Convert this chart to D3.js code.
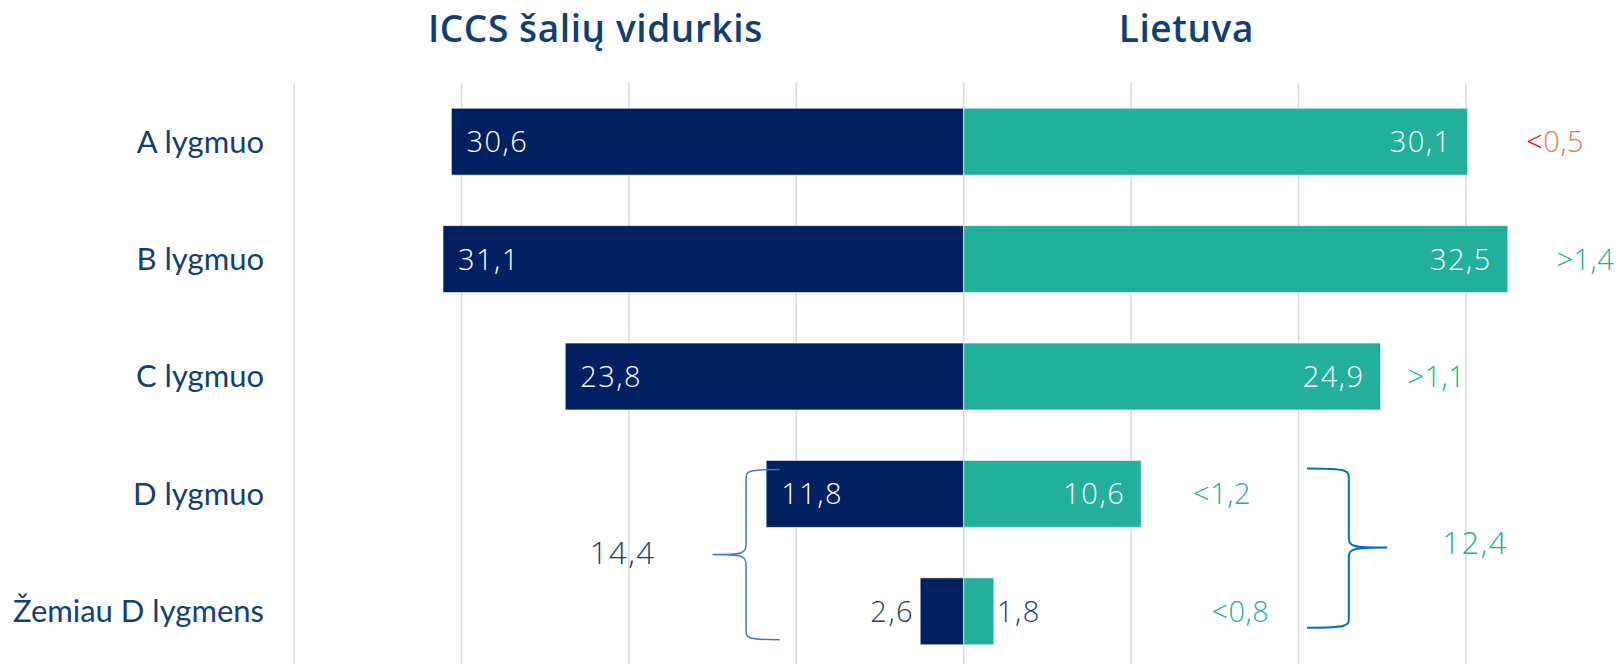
<!DOCTYPE html>
<html>
<head>
<meta charset="utf-8">
<script src="https://cdn.jsdelivr.net/npm/d3@7"></script>
<style>
  body { margin: 0; background: #fff; }
  svg { display: block; }
</style>
</head>
<body>
<div id="chart"></div>
<script>
// data
var levels = ["A lygmuo", "B lygmuo", "C lygmuo", "D lygmuo", "Žemiau D lygmens"];
var iccsAvg = [30.6, 31.1, 23.8, 11.8, 2.6];
var lithuania = [30.1, 32.5, 24.9, 10.6, 1.8];
var diffSign = ["<", ">", ">", "<", "<"];
var diffValue = [0.5, 1.4, 1.1, 1.2, 0.8];
var groupTotals = [14.4, 12.4];   // D + below D: ICCS, Lietuva
var titles = ["ICCS šalių vidurkis", "Lietuva"];
var gridTicks = [-40, -30, -20, -10, 0, 10, 20, 30];

// layout
var W = 1619, H = 664;
var diffAt = [33.6, 35.4, 26.5, 13.7, 14.8];   // where each difference label starts (x units)

var navy = "#002060", teal = "#23b09b", textBlue = "#14406f";
var fmt = function (v) { return d3.format(".1f")(v).replace(".", ","); };

var svg = d3.select("#chart").append("svg")
  .attr("width", W)
  .attr("height", H);

var x = d3.scaleLinear()
  .domain([-40, 30])
  .range([294, 1466]);

var y = d3.scaleBand()
  .domain(levels)
  .range([83, 670])
  .paddingInner(0.43)
  .paddingOuter(0.215);

var bw = y.bandwidth();

// grid
svg.append("g")
  .selectAll("line")
  .data(gridTicks)
  .enter()
  .append("line")
    .attr("x1", d => x(d))
    .attr("x2", d => x(d))
    .attr("y1", 83)
    .attr("y2", H)
    .attr("stroke", "#d9d9d9")
    .attr("stroke-width", 1.5);

// titles
svg.append("g")
  .selectAll("text")
  .data(titles)
  .enter()
  .append("text")
    .attr("x", (d, i) => i == 0 ? x(-22) : x(13.3))
    .attr("y", 42)
    .attr("text-anchor", "middle")
    .style("font-family", "'Open Sans'")
    .style("font-weight", 600)
    .style("font-size", "37px")
    .style("letter-spacing", "0.6px")
    .style("fill", "#123f73")
    .text(d => d);

// category labels
svg.append("g")
  .selectAll("text")
  .data(levels)
  .enter()
  .append("text")
    .attr("x", 264)
    .attr("y", d => y(d) + bw / 2)
    .attr("dy", "0.35em")
    .attr("text-anchor", "end")
    .style("font-family", "Lato")
    .style("font-size", "31px")
    .style("fill", textBlue)
    .text(d => d);

var rows = levels.map((d, i) => ({
  level: d, left: iccsAvg[i], right: lithuania[i],
  sign: diffSign[i], diff: diffValue[i], at: diffAt[i]
}));

// bars
var bars = svg.append("g");
bars.selectAll(".lbar")
  .data(rows)
  .enter()
  .append("rect")
    .attr("x", d => x(-d.left))
    .attr("y", d => y(d.level))
    .attr("width", d => x(0) - x(-d.left))
    .attr("height", bw)
    .attr("fill", navy)
    .attr("stroke", "#fff")
    .attr("stroke-opacity", 0.6)
    .attr("stroke-width", 1);

bars.selectAll(".rbar")
  .data(rows)
  .enter()
  .append("rect")
    .attr("x", x(0))
    .attr("y", d => y(d.level))
    .attr("width", d => x(d.right) - x(0))
    .attr("height", bw)
    .attr("fill", teal)
    .attr("stroke", "#fff")
    .attr("stroke-opacity", 0.6)
    .attr("stroke-width", 1);

// value labels
var labels = svg.append("g")
  .style("font-family", "'Open Sans'")
  .style("font-weight", 300)
  .style("font-size", "29px")
  .style("letter-spacing", "1.5px");

labels.selectAll(".lval")
  .data(rows)
  .enter()
  .append("text")
    .attr("x", d => d.left > 5 ? x(-d.left) + 15 : x(-d.left) - 6)
    .attr("y", d => y(d.level) + bw / 2)
    .attr("dy", "0.36em")
    .attr("text-anchor", d => d.left > 5 ? "start" : "end")
    .style("fill", d => d.left > 5 ? "#fff" : textBlue)
    .text(d => fmt(d.left));

labels.selectAll(".rval")
  .data(rows)
  .enter()
  .append("text")
    .attr("x", d => d.right > 5 ? x(d.right) - 16 : x(d.right) + 3)
    .attr("y", d => y(d.level) + bw / 2)
    .attr("dy", "0.36em")
    .attr("text-anchor", d => d.right > 5 ? "end" : "start")
    .style("fill", d => d.right > 5 ? "#fff" : textBlue)
    .text(d => fmt(d.right));

// difference labels
var diffs = labels.selectAll(".diff")
  .data(rows)
  .enter()
  .append("text")
    .attr("x", d => x(d.at))
    .attr("y", d => y(d.level) + bw / 2)
    .attr("dy", "0.36em")
    .style("letter-spacing", "0.5px");

diffs.append("tspan")
  .style("fill", d => d.sign == "<" && d.level == levels[0] ? "#ff0000" : teal)
  .text(d => d.sign);
diffs.append("tspan")
  .style("fill", d => d.sign == "<" && d.level == levels[0] ? "#e8735a" : teal)
  .text(d => fmt(d.diff));

// braces around D + below D
var braceTop = y(levels[3]) + 9;
var braceBot = y(levels[4]) + bw - 5;
var braceMid = (braceTop + braceBot) / 2;

function brace(xArm, xBar, xTip, y0, y1, ym) {
  var r = 10;
  var dir = xTip > xBar ? 1 : -1;
  return "M" + xArm + "," + y0 +
    " C" + xBar + "," + y0 + " " + xBar + "," + (y0 + 2) + " " + xBar + "," + (y0 + r) +
    " L" + xBar + "," + (ym - r) +
    " C" + xBar + "," + (ym - 1) + " " + (xBar + dir * 4) + "," + ym + " " + xTip + "," + ym +
    " C" + (xBar + dir * 4) + "," + ym + " " + xBar + "," + (ym + 1) + " " + xBar + "," + (ym + r) +
    " L" + xBar + "," + (y1 - r) +
    " C" + xBar + "," + (y1 - 2) + " " + xBar + "," + y1 + " " + xArm + "," + y1;
}

svg.append("path")
  .attr("d", brace(x(-11), x(-13), x(-15), braceTop, braceBot, braceMid))
  .attr("fill", "none")
  .attr("stroke", "#4472c4")
  .attr("stroke-width", 1.5);

svg.append("path")
  .attr("d", brace(x(20.5), x(23), x(25.3), braceTop - 1, braceBot - 12, braceMid - 7))
  .attr("fill", "none")
  .attr("stroke", "#0070c0")
  .attr("stroke-width", 2);

labels.append("text")
  .attr("x", x(-15) - 57)
  .attr("y", braceMid - 2)
  .attr("dy", "0.36em")
  .attr("text-anchor", "end")
  .style("font-size", "31px")
  .style("fill", textBlue)
  .text(fmt(groupTotals[0]));

labels.append("text")
  .attr("x", x(25.3) + 55)
  .attr("y", braceMid - 12)
  .attr("dy", "0.36em")
  .attr("text-anchor", "start")
  .style("font-size", "31px")
  .style("fill", teal)
  .text(fmt(groupTotals[1]));
</script>
</body>
</html>
